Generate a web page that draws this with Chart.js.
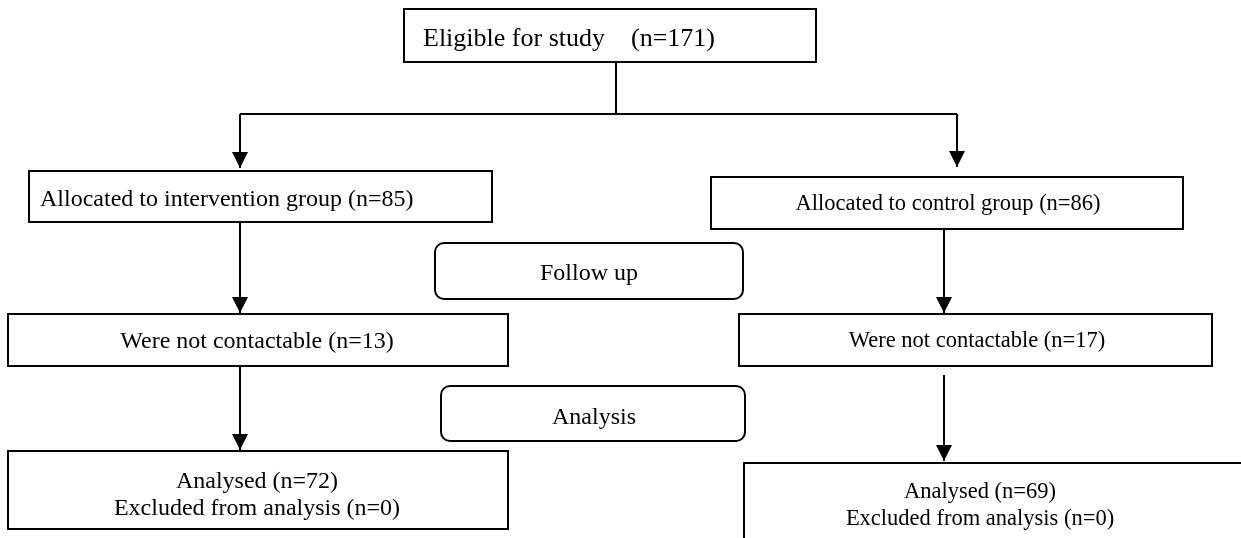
<!DOCTYPE html>
<html>
<head>
<meta charset="utf-8">
<script src="https://cdn.jsdelivr.net/npm/chart.js@4"></script>
<style>
  html, body { margin: 0; padding: 0; background: #fff; }
  #wrap { width: 1241px; height: 538px; position: relative; }
</style>
</head>
<body>
<div id="wrap"><canvas id="myChart"></canvas></div>
<script>
// flow counts
const eligible = 171
const groupNames = ['intervention', 'control']
const allocated = [85, 86]
const notContactable = [13, 17]
const analysed = [72, 69]
const excluded = [0, 0]
const phaseLabels = ['Follow up', 'Analysis']

// layout in axis units (x 0..1241, y 0..538 top-down)
const boxLayout = {
  eligible:  { x0: 404, y0: 9,   x1: 816,  y1: 62,  tx: 423, ty: 46,  align: 'left',   fs: 26 },
  alloc0:    { x0: 29,  y0: 171, x1: 492,  y1: 222, tx: 40,  ty: 206, align: 'left',   fs: 24 },
  alloc1:    { x0: 711, y0: 177, x1: 1183, y1: 229, tx: 948, ty: 210, align: 'center', fs: 22.5 },
  lost0:     { x0: 8,   y0: 314, x1: 508,  y1: 366, tx: 257, ty: 348, align: 'center', fs: 24 },
  lost1:     { x0: 739, y0: 314, x1: 1212, y1: 366, tx: 977, ty: 347, align: 'center', fs: 22.5 },
  anal0:     { x0: 8,   y0: 451, x1: 508,  y1: 529, tx: 257, ty: 488, align: 'center', fs: 24 },
  anal1:     { x0: 744, y0: 463, x1: 1260, y1: 560, tx: 980, ty: 498, align: 'center', fs: 22.5 },
  phase0:    { x0: 435, y0: 243, x1: 743,  y1: 299, tx: 589, ty: 280, align: 'center', fs: 24, round: 9 },
  phase1:    { x0: 441, y0: 386, x1: 745,  y1: 441, tx: 594, ty: 424, align: 'center', fs: 24, round: 9 }
}
const lineGap = 27

// connectors: polylines, last segment gets an arrowhead if arrow true
const connectors = [
  { pts: [[616, 62], [616, 114]], arrow: false },
  { pts: [[240, 114], [957, 114]], arrow: false },
  { pts: [[240, 114], [240, 168]], arrow: true },
  { pts: [[957, 114], [957, 167]], arrow: true },
  { pts: [[240, 222], [240, 313]], arrow: true },
  { pts: [[944, 229], [944, 313]], arrow: true },
  { pts: [[240, 366], [240, 450]], arrow: true },
  { pts: [[944, 375], [944, 461]], arrow: true }
]

function boxText() {
  return {
    eligible: ['Eligible for study    (n=' + eligible + ')'],
    alloc0: ['Allocated to ' + groupNames[0] + ' group (n=' + allocated[0] + ')'],
    alloc1: ['Allocated to ' + groupNames[1] + ' group (n=' + allocated[1] + ')'],
    lost0: ['Were not contactable (n=' + notContactable[0] + ')'],
    lost1: ['Were not contactable (n=' + notContactable[1] + ')'],
    anal0: ['Analysed (n=' + analysed[0] + ')', 'Excluded from analysis (n=' + excluded[0] + ')'],
    anal1: ['Analysed (n=' + analysed[1] + ')', 'Excluded from analysis (n=' + excluded[1] + ')'],
    phase0: [phaseLabels[0]],
    phase1: [phaseLabels[1]]
  }
}

const flowPlugin = {
  id: 'flow',
  afterDraw(chart) {
    const ctx = chart.ctx
    const xs = chart.scales.x
    const ys = chart.scales.y
    const px = v => xs.getPixelForValue(v)
    const py = v => ys.getPixelForValue(v)
    const texts = boxText()
    ctx.save()
    ctx.strokeStyle = '#000'
    ctx.fillStyle = '#000'
    ctx.lineWidth = 2

    Object.keys(boxLayout).forEach(key => {
      const b = boxLayout[key]
      const x0 = px(b.x0), y0 = py(b.y0), x1 = px(b.x1), y1 = py(b.y1)
      ctx.beginPath()
      if (b.round) {
        ctx.roundRect(x0, y0, x1 - x0, y1 - y0, b.round)
      } else {
        ctx.rect(x0, y0, x1 - x0, y1 - y0)
      }
      ctx.stroke()
      ctx.font = b.fs + 'px "Liberation Serif", "Times New Roman", serif'
      ctx.textAlign = b.align
      ctx.textBaseline = 'alphabetic'
      texts[key].forEach((t, i) => {
        ctx.fillText(t, px(b.tx), py(b.ty) + i * lineGap)
      })
    })

    connectors.forEach(c => {
      ctx.beginPath()
      c.pts.forEach((p, i) => {
        if (i == 0) ctx.moveTo(px(p[0]), py(p[1]))
        else ctx.lineTo(px(p[0]), py(p[1]))
      })
      ctx.stroke()
      if (c.arrow) {
        const end = c.pts[c.pts.length - 1]
        const tx = px(end[0]), ty = py(end[1])
        ctx.beginPath()
        ctx.moveTo(tx, ty)
        ctx.lineTo(tx - 8, ty - 16)
        ctx.lineTo(tx + 8, ty - 16)
        ctx.closePath()
        ctx.fill()
      }
    })
    ctx.restore()
  }
}

const ctx = document.getElementById('myChart')
let chart = new Chart(ctx, {
  type: 'scatter',
  data: { datasets: [{ data: [], pointRadius: 0 }] },
  options: {
    responsive: true,
    maintainAspectRatio: false,
    animation: false,
    layout: { padding: 0 },
    plugins: { legend: { display: false }, tooltip: { enabled: false } },
    scales: {
      x: { type: 'linear', min: 0, max: 1241, display: false },
      y: { type: 'linear', min: 0, max: 538, reverse: true, display: false }
    }
  },
  plugins: [flowPlugin]
})
</script>
</body>
</html>
